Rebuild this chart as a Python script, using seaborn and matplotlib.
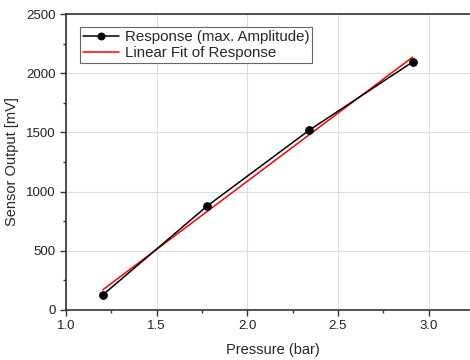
import numpy as np
import pandas as pd
import matplotlib.pyplot as plt
from matplotlib.ticker import MultipleLocator
import seaborn as sns

# valori
pressione = [1.204, 1.779, 2.343, 2.912]
risposta = [127, 878, 1520, 2095]

df = pd.DataFrame({'Pressure (bar)': pressione, 'Sensor Output [mV]': risposta})

sns.set_style('ticks')
plt.rcParams['font.family'] = ['Liberation Sans', 'DejaVu Sans']

fig = plt.figure(figsize=(4.7, 3.6), dpi=100)
ax = fig.add_axes([0.140, 0.139, 0.88, 0.822])

# fit lineare
k, q = np.polyfit(pressione, risposta, 1)
x_fit = np.array([min(pressione), max(pressione)])

sns.lineplot(data=df, x='Pressure (bar)', y='Sensor Output [mV]', ax=ax, color='black',
             marker='o', markersize=5.5, markeredgecolor='black', linewidth=1.1,
             label='Response (max. Amplitude)', zorder=3)
sns.lineplot(x=x_fit, y=k * x_fit + q, ax=ax, color='red', linewidth=1.1,
             label='Linear Fit of Response', zorder=2)

ax.set_xlim(1.0, 3.28)
ax.set_ylim(0, 2500)
ax.xaxis.set_major_locator(MultipleLocator(0.5))
ax.xaxis.set_minor_locator(MultipleLocator(0.25))
ax.yaxis.set_major_locator(MultipleLocator(500))
ax.yaxis.set_minor_locator(MultipleLocator(250))
ax.grid(True, which='major', color='#dddddd', linewidth=0.8)
ax.set_axisbelow(True)

for s in ax.spines.values():
    s.set_color('#333333')
    s.set_linewidth(1.2)
ax.tick_params(which='major', length=4, width=1, color='#333333', labelsize=9.5, labelcolor='#222222')
ax.tick_params(which='minor', length=2.5, width=1, color='#333333')

ax.set_xlabel('Pressure (bar)', fontsize=10.5, labelpad=8)
ax.set_ylabel('Sensor Output [mV]', fontsize=10.5, labelpad=5)

leg = ax.legend(loc='upper left', bbox_to_anchor=(0.035, 0.955), fontsize=10.8, frameon=True,
                fancybox=False, edgecolor='#666666', framealpha=1, borderpad=0.2,
                handlelength=2.4, handletextpad=0.35, labelspacing=0.1, borderaxespad=0,
                markerscale=0.9)
leg.get_frame().set_linewidth(0.8)

plt.savefig('out.png', dpi=100)
